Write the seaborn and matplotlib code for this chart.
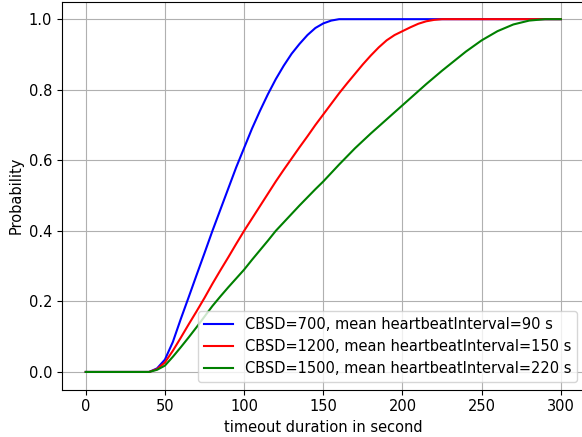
import numpy as np
import pandas as pd
import matplotlib
matplotlib.use("Agg")
import matplotlib.pyplot as plt
import seaborn as sns

# valores
timeout = [0, 40, 45, 50, 55, 60, 65, 70, 75, 80, 85, 90, 95, 100, 105, 110, 115, 120,
           125, 130, 135, 140, 145, 150, 155, 160, 165, 170, 175, 180, 185, 190, 195,
           200, 205, 210, 215, 220, 225, 230, 240, 250, 260, 270, 280, 290, 300]

prob_700 = [0, 0, 0.01, 0.035, 0.085, 0.15, 0.212, 0.275, 0.337, 0.40, 0.46, 0.52, 0.58,
            0.635, 0.69, 0.74, 0.787, 0.83, 0.868, 0.902, 0.93, 0.955, 0.975, 0.988,
            0.996, 1.0, 1.0, 1.0, 1.0, 1.0, 1.0, 1.0, 1.0, 1.0, 1.0, 1.0, 1.0, 1.0,
            1.0, 1.0, 1.0, 1.0, 1.0, 1.0, 1.0, 1.0, 1.0]

prob_1200 = [0, 0, 0.008, 0.027, 0.06, 0.097, 0.135, 0.172, 0.21, 0.25, 0.288, 0.325,
             0.363, 0.40, 0.435, 0.47, 0.505, 0.54, 0.573, 0.605, 0.637, 0.668, 0.70,
             0.73, 0.76, 0.79, 0.818, 0.845, 0.872, 0.897, 0.92, 0.94, 0.955, 0.966,
             0.977, 0.987, 0.994, 0.998, 1.0, 1.0, 1.0, 1.0, 1.0, 1.0, 1.0, 1.0, 1.0]

prob_1500 = [0, 0, 0.006, 0.018, 0.043, 0.07, 0.098, 0.127, 0.157, 0.187, 0.214, 0.24,
             0.265, 0.29, 0.318, 0.345, 0.372, 0.40, 0.424, 0.448, 0.472, 0.495, 0.518,
             0.54, 0.564, 0.588, 0.611, 0.634, 0.655, 0.676, 0.696, 0.716, 0.736,
             0.756, 0.776, 0.796, 0.816, 0.835, 0.854, 0.872, 0.908, 0.94, 0.966, 0.985,
             0.996, 1.0, 1.0]

labels = ["CBSD=700, mean heartbeatInterval=90 s",
          "CBSD=1200, mean heartbeatInterval=150 s",
          "CBSD=1500, mean heartbeatInterval=220 s"]
cores = ["blue", "red", "green"]

df = pd.concat([
    pd.DataFrame({"timeout": timeout, "prob": p, "serie": lab})
    for p, lab in zip([prob_700, prob_1200, prob_1500], labels)
])

plt.rcParams["font.size"] = 10.5

fig = plt.figure(figsize=(5.82, 4.37), dpi=100)
ax = fig.add_axes([0.1065, 0.1085, 0.898, 0.888])

sns.lineplot(data=df, x="timeout", y="prob", hue="serie", hue_order=labels,
             palette=cores, linewidth=1.5, ax=ax)

ax.set_xlim(-15, 315)
ax.set_ylim(-0.05, 1.05)
ax.set_xticks([0, 50, 100, 150, 200, 250, 300])
ax.set_yticks([0.0, 0.2, 0.4, 0.6, 0.8, 1.0])
ax.set_xlabel("timeout duration in second")
ax.set_ylabel("Probability")
ax.grid(True)
handles, labs = ax.get_legend_handles_labels()
ax.legend(handles, labs, loc="lower right")

fig.savefig("out.png", dpi=100)
